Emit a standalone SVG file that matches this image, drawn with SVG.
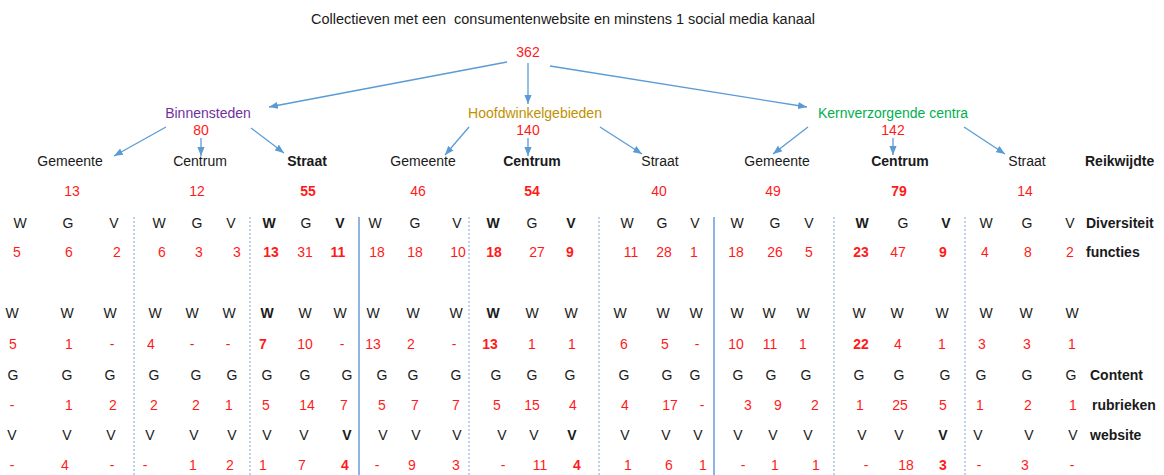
<svg xmlns="http://www.w3.org/2000/svg" width="1164" height="475" viewBox="0 0 1164 475">
<defs>
<marker id="ah" viewBox="0 0 10 8" markerWidth="9" markerHeight="7.2" refX="10" refY="4" orient="auto" markerUnits="userSpaceOnUse">
<path d="M0,0 L10,4 L0,8 z" fill="#5B9BD5"/>
</marker>
<style>
text{font-family:"Liberation Sans",Arial,sans-serif;font-size:14px;fill:#1a1a1a}
.m{text-anchor:middle}
text.r,.r text{fill:#FF1A1A}
.b{font-weight:bold}
.c line{stroke:#5B9BD5;stroke-width:1.3;marker-end:url(#ah)}
.dash{stroke:#7FA7D6;stroke-width:1;stroke-dasharray:2,2}
.solid{stroke:#8EB4E3;stroke-width:2}
</style>
</defs>
<rect width="1164" height="475" fill="#fff"/>
<g id="title"><text x="311" y="24" xml:space="preserve" textLength="504" lengthAdjust="spacingAndGlyphs">Collectieven met een  consumentenwebsite en minstens 1 social media kanaal</text></g>
<g id="root"><text class="m r" x="528" y="57">362</text></g>
<g id="binnensteden"><text class="m" x="208" y="118" style="fill:#7030A0">Binnensteden</text><text class="m r" x="201" y="135">80</text></g>
<g id="hoofdwinkelgebieden"><text class="m" x="535" y="118" style="fill:#C09000">Hoofdwinkelgebieden</text><text class="m r" x="528" y="135">140</text></g>
<g id="kernverzorgende"><text class="m" x="893" y="118" style="fill:#00B050">Kernverzorgende centra</text><text class="m r" x="893" y="135">142</text></g>
<g id="b-gemeente"><text class="m" x="70" y="166">Gemeente</text><text class="m r" x="72" y="196">13</text></g>
<g id="b-centrum"><text class="m" x="200" y="166">Centrum</text><text class="m r" x="197" y="196">12</text></g>
<g id="b-straat"><text class="m b" x="307" y="166">Straat</text><text class="m r b" x="308" y="196">55</text></g>
<g id="h-gemeente"><text class="m" x="423" y="166">Gemeente</text><text class="m r" x="418" y="196">46</text></g>
<g id="h-centrum"><text class="m b" x="532" y="166">Centrum</text><text class="m r b" x="532" y="196">54</text></g>
<g id="h-straat"><text class="m" x="660" y="166">Straat</text><text class="m r" x="659" y="196">40</text></g>
<g id="k-gemeente"><text class="m" x="777" y="166">Gemeente</text><text class="m r" x="773" y="196">49</text></g>
<g id="k-centrum"><text class="m b" x="900" y="166">Centrum</text><text class="m r b" x="899" y="196">79</text></g>
<g id="k-straat"><text class="m" x="1027" y="166">Straat</text><text class="m r" x="1025" y="196">14</text></g>
<g id="labels" class="b">
<text x="1085" y="166">Reikwijdte</text>
<text x="1086" y="228">Diversiteit</text>
<text x="1086" y="257">functies</text>
<text x="1090" y="380">Content</text>
<text x="1092" y="410">rubrieken</text>
<text x="1090" y="440">website</text>
</g>
<g id="connectors" class="c">
<line x1="507" y1="62" x2="269" y2="107"/>
<line x1="528" y1="63" x2="528" y2="104"/>
<line x1="550" y1="66" x2="807" y2="107"/>
<line x1="166" y1="127" x2="114" y2="156"/>
<line x1="201" y1="138" x2="201" y2="156"/>
<line x1="251" y1="128" x2="284" y2="153"/>
<line x1="469" y1="127" x2="445" y2="155"/>
<line x1="528" y1="138" x2="528" y2="156"/>
<line x1="600" y1="127" x2="642" y2="154"/>
<line x1="808" y1="127" x2="773" y2="154"/>
<line x1="893" y1="138" x2="893" y2="155"/>
<line x1="964" y1="127" x2="1005" y2="154"/>
</g>
<g id="dividers">
<line class="dash" x1="134" y1="217" x2="134" y2="475"/>
<line class="dash" x1="250" y1="217" x2="250" y2="475"/>
<line class="solid" x1="359" y1="217" x2="359" y2="475"/>
<line class="dash" x1="469" y1="217" x2="469" y2="475"/>
<line class="dash" x1="599" y1="217" x2="599" y2="475"/>
<line class="solid" x1="714" y1="217" x2="714" y2="475"/>
<line class="dash" x1="834" y1="217" x2="834" y2="475"/>
<line class="dash" x1="965" y1="217" x2="965" y2="475"/>
</g>
<g id="grid" class="m">
<g id="row-wgv">
<text x="20" y="228">W</text><text x="68" y="228">G</text><text x="114" y="228">V</text>
<text x="159" y="228">W</text><text x="197" y="228">G</text><text x="231" y="228">V</text>
<text class="b" x="269" y="228">W</text><text x="306" y="228">G</text><text class="b" x="340" y="228">V</text>
<text x="375" y="228">W</text><text x="415" y="228">G</text><text x="457" y="228">V</text>
<text class="b" x="493" y="228">W</text><text x="532" y="228">G</text><text class="b" x="571" y="228">V</text>
<text x="627" y="228">W</text><text x="662" y="228">G</text><text x="695" y="228">V</text>
<text x="737" y="228">W</text><text x="775" y="228">G</text><text x="809" y="228">V</text>
<text class="b" x="862" y="228">W</text><text x="903" y="228">G</text><text class="b" x="946" y="228">V</text>
<text x="986" y="228">W</text><text x="1027" y="228">G</text><text x="1070" y="228">V</text>
</g>
<g id="row-functies" class="r">
<text x="17" y="257">5</text><text x="69" y="257">6</text><text x="117" y="257">2</text>
<text x="162" y="257">6</text><text x="199" y="257">3</text><text x="237" y="257">3</text>
<text class="b" x="271" y="257">13</text><text x="305" y="257">31</text><text class="b" x="338" y="257">11</text>
<text x="377" y="257">18</text><text x="415" y="257">18</text><text x="458" y="257">10</text>
<text class="b" x="494" y="257">18</text><text x="537" y="257">27</text><text class="b" x="570" y="257">9</text>
<text x="631" y="257">11</text><text x="664" y="257">28</text><text x="694" y="257">1</text>
<text x="736" y="257">18</text><text x="775" y="257">26</text><text x="809" y="257">5</text>
<text class="b" x="861" y="257">23</text><text x="898" y="257">47</text><text class="b" x="943" y="257">9</text>
<text x="985" y="257">4</text><text x="1028" y="257">8</text><text x="1070" y="257">2</text>
</g>
<g id="row-w">
<text x="12" y="318">W</text><text x="67" y="318">W</text><text x="110" y="318">W</text>
<text x="155" y="318">W</text><text x="192" y="318">W</text><text x="229" y="318">W</text>
<text class="b" x="267" y="318">W</text><text x="305" y="318">W</text><text x="340" y="318">W</text>
<text x="373" y="318">W</text><text x="413" y="318">W</text><text x="456" y="318">W</text>
<text class="b" x="493" y="318">W</text><text x="532" y="318">W</text><text x="571" y="318">W</text>
<text x="620" y="318">W</text><text x="663" y="318">W</text><text x="696" y="318">W</text>
<text x="737" y="318">W</text><text x="769" y="318">W</text><text x="803" y="318">W</text>
<text x="859" y="318">W</text><text x="897" y="318">W</text><text x="942" y="318">W</text>
<text x="986" y="318">W</text><text x="1026" y="318">W</text><text x="1072" y="318">W</text>
</g>
<g id="row-w-n" class="r">
<text x="13" y="349">5</text><text x="69" y="349">1</text><text x="112" y="349">-</text>
<text x="151" y="349">4</text><text x="192" y="349">-</text><text x="228" y="349">-</text>
<text class="b" x="263" y="349">7</text><text x="305" y="349">10</text><text x="342" y="349">-</text>
<text x="373" y="349">13</text><text x="411" y="349">2</text><text x="454" y="349">-</text>
<text class="b" x="490" y="349">13</text><text x="532" y="349">1</text><text x="572" y="349">1</text>
<text x="624" y="349">6</text><text x="665" y="349">5</text><text x="697" y="349">-</text>
<text x="736" y="349">10</text><text x="770" y="349">11</text><text x="803" y="349">1</text>
<text class="b" x="861" y="349">22</text><text x="898" y="349">4</text><text x="942" y="349">1</text>
<text x="982" y="349">3</text><text x="1027" y="349">3</text><text x="1072" y="349">1</text>
</g>
<g id="row-g">
<text x="13" y="380">G</text><text x="67" y="380">G</text><text x="110" y="380">G</text>
<text x="154" y="380">G</text><text x="196" y="380">G</text><text x="232" y="380">G</text>
<text x="267" y="380">G</text><text x="305" y="380">G</text><text x="347" y="380">G</text>
<text x="382" y="380">G</text><text x="413" y="380">G</text><text x="456" y="380">G</text>
<text x="496" y="380">G</text><text x="532" y="380">G</text><text x="570" y="380">G</text>
<text x="624" y="380">G</text><text x="667" y="380">G</text><text x="695" y="380">G</text>
<text x="738" y="380">G</text><text x="771" y="380">G</text><text x="806" y="380">G</text>
<text x="859" y="380">G</text><text x="899" y="380">G</text><text x="945" y="380">G</text>
<text x="981" y="380">G</text><text x="1027" y="380">G</text><text x="1071" y="380">G</text>
</g>
<g id="row-g-n" class="r">
<text x="12" y="410">-</text><text x="69" y="410">1</text><text x="113" y="410">2</text>
<text x="154" y="410">2</text><text x="196" y="410">2</text><text x="229" y="410">1</text>
<text x="266" y="410">5</text><text x="307" y="410">14</text><text x="344" y="410">7</text>
<text x="382" y="410">5</text><text x="415" y="410">7</text><text x="456" y="410">7</text>
<text x="497" y="410">5</text><text x="532" y="410">15</text><text x="573" y="410">4</text>
<text x="625" y="410">4</text><text x="670" y="410">17</text><text x="702" y="410">-</text>
<text x="748" y="410">3</text><text x="778" y="410">9</text><text x="815" y="410">2</text>
<text x="860" y="410">1</text><text x="900" y="410">25</text><text x="943" y="410">5</text>
<text x="980" y="410">1</text><text x="1028" y="410">2</text><text x="1073" y="410">1</text>
</g>
<g id="row-v">
<text x="12" y="440">V</text><text x="67" y="440">V</text><text x="111" y="440">V</text>
<text x="150" y="440">V</text><text x="194" y="440">V</text><text x="232" y="440">V</text>
<text x="267" y="440">V</text><text x="304" y="440">V</text><text class="b" x="347" y="440">V</text>
<text x="383" y="440">V</text><text x="416" y="440">V</text><text x="457" y="440">V</text>
<text x="502" y="440">V</text><text x="534" y="440">V</text><text class="b" x="572" y="440">V</text>
<text x="625" y="440">V</text><text x="666" y="440">V</text><text x="698" y="440">V</text>
<text x="738" y="440">V</text><text x="773" y="440">V</text><text x="808" y="440">V</text>
<text x="862" y="440">V</text><text x="899" y="440">V</text><text class="b" x="943" y="440">V</text>
<text x="978" y="440">V</text><text x="1029" y="440">V</text><text x="1073" y="440">V</text>
</g>
<g id="row-v-n" class="r">
<text x="12" y="470">-</text><text x="65" y="470">4</text><text x="112" y="470">-</text>
<text x="145" y="470">-</text><text x="193" y="470">1</text><text x="230" y="470">2</text>
<text x="263" y="470">1</text><text x="302" y="470">7</text><text class="b" x="345" y="470">4</text>
<text x="377" y="470">-</text><text x="412" y="470">9</text><text x="456" y="470">3</text>
<text x="503" y="470">-</text><text x="540" y="470">11</text><text class="b" x="577" y="470">4</text>
<text x="628" y="470">1</text><text x="669" y="470">6</text><text x="703" y="470">1</text>
<text x="743" y="470">-</text><text x="775" y="470">1</text><text x="816" y="470">1</text>
<text x="866" y="470">-</text><text x="906" y="470">18</text><text class="b" x="943" y="470">3</text>
<text x="979" y="470">-</text><text x="1025" y="470">3</text><text x="1072" y="470">-</text>
</g>
</g>
</svg>
